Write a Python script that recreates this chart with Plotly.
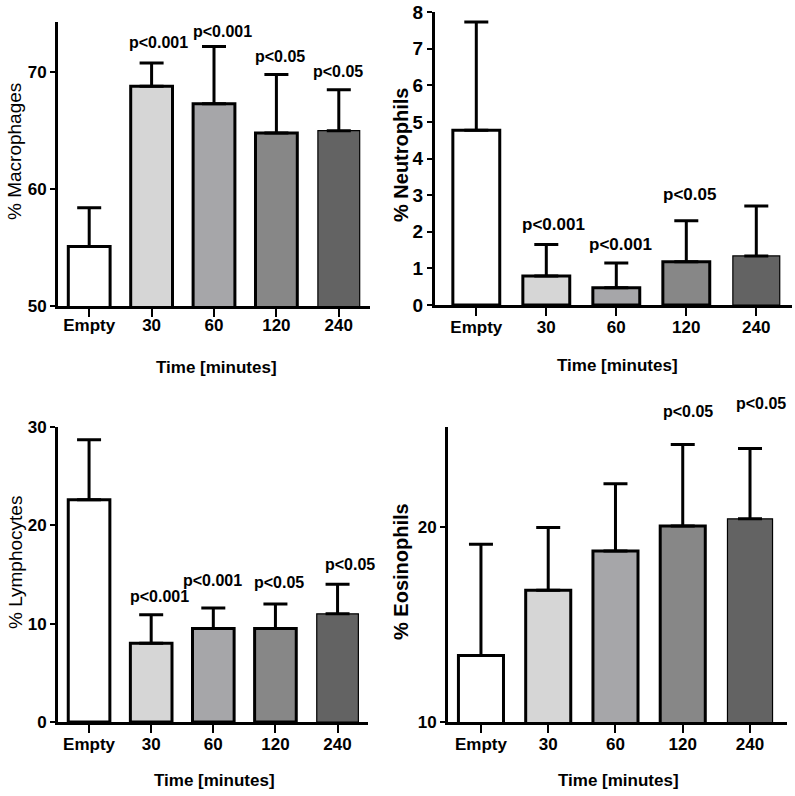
import plotly.graph_objects as go

categories = ["Empty", "30", "60", "120", "240"]

macro_mean = [55.1, 68.8, 67.3, 64.8, 65.0]
macro_err = [3.3, 2.0, 4.9, 5.0, 3.5]
macro_p = ["", "p<0.001", "p<0.001", "p<0.05", "p<0.05"]

neutro_mean = [4.77, 0.79, 0.47, 1.18, 1.34]
neutro_err = [2.96, 0.86, 0.68, 1.12, 1.36]
neutro_p = ["", "p<0.001", "p<0.001", "p<0.05", ""]

lympho_mean = [22.6, 8.0, 9.5, 9.5, 11.0]
lympho_err = [6.1, 2.9, 2.1, 2.5, 3.0]
lympho_p = ["", "p<0.001", "p<0.001", "p<0.05", "p<0.05"]

eosino_mean = [13.4, 16.75, 18.75, 20.03, 20.4]
eosino_err = [5.7, 3.2, 3.45, 4.17, 3.6]
eosino_p = ["", "", "", "p<0.05", "p<0.05"]

y_titles = ["% Macrophages", "% Neutrophils", "% Lymphocytes", "% Eosinophils"]
x_title = "Time [minutes]"

bar_colors = ["#ffffff", "#d6d6d6", "#a6a6a9", "#878787", "#636363"]
bar_line_w = [3, 3, 3, 3, 1.2]
FONT = "Liberation Sans, Arial, sans-serif"

panels = [
    dict(mean=macro_mean, err=macro_err, p=macro_p,
         xd=[58/795, 370/795], yd=[1-306/796, 1-22/796],
         xr=[-0.5, 4.5], yr=[50, 74.3], tv=[50, 60, 70],
         pxs=[0, 7, 8, 4, -1], pys=[0, 10, 5, 8, 8], tfs=17, ptf=16, xso=-6),
    dict(mean=neutro_mean, err=neutro_err, p=neutro_p,
         xd=[435/795, 792/795], yd=[1-305/796, 1-12/796],
         xr=[-0.59, 4.51], yr=[0, 8], tv=list(range(0, 9)),
         pxs=[0, 7, 4, 3, 0], pys=[0, 9, 7, 15, 0], tfs=19, ptf=17, xso=-3),
    dict(mean=lympho_mean, err=lympho_err, p=lympho_p,
         xd=[58/795, 368/795], yd=[1-722/796, 1-427/796],
         xr=[-0.5, 4.49], yr=[0, 30], tv=[0, 10, 20, 30],
         pxs=[0, 8, -1, 4, 12], pys=[0, 8, 17, 11, 9], tfs=17, ptf=16, xso=-3),
    dict(mean=eosino_mean, err=eosino_err, p=eosino_p,
         xd=[448/795, 787/795], yd=[1-722/796, 1-427/796],
         xr=[-0.49, 4.55], yr=[10, 25.1], tv=[10, 20],
         pxs=[0, 0, 0, 5, 11], pys=[0, 0, 0, 23, 34], tfs=17, ptf=16, xso=-3),
]

fig = go.Figure()
annotations = []
layout = {}

for i, pn in enumerate(panels):
    n = "" if i == 0 else str(i + 1)
    xa, ya = "x" + n, "y" + n
    fig.add_trace(go.Bar(
        x=list(range(len(categories))), y=pn["mean"],
        xaxis=xa, yaxis=ya, width=0.67,
        marker=dict(color=bar_colors, line=dict(color="#000000", width=bar_line_w)),
        error_y=dict(type="data", symmetric=False, array=pn["err"],
                     arrayminus=[0] * len(categories),
                     color="#000000", thickness=3, width=12),
        showlegend=False, hoverinfo="skip",
    ))
    layout["xaxis" + n] = dict(
        domain=pn["xd"], range=pn["xr"], anchor=ya, automargin=False,
        tickmode="array", tickvals=list(range(len(categories))), ticktext=categories,
        showline=True, linecolor="#000000", linewidth=3,
        ticks="outside", ticklen=8, tickwidth=2, tickcolor="#000000",
        ticklabelstandoff=pn["xso"],
        showgrid=False, zeroline=False, fixedrange=True,
        tickfont=dict(family=FONT, size=17, color="#000000", weight="bold"),
    )
    layout["yaxis" + n] = dict(
        domain=pn["yd"], range=pn["yr"], anchor=xa, automargin=False,
        tickmode="array", tickvals=pn["tv"],
        showline=True, linecolor="#000000", linewidth=3,
        ticks="outside", ticklen=5, tickwidth=2, tickcolor="#000000",
        showgrid=False, zeroline=False, fixedrange=True,
        tickfont=dict(family=FONT, size=pn["tfs"], color="#000000", weight="bold"),
    )
    for j, lab in enumerate(pn["p"]):
        if not lab:
            continue
        annotations.append(dict(
            x=j, y=pn["mean"][j] + pn["err"][j], xref=xa, yref=ya,
            text="<b>" + lab + "</b>", showarrow=False,
            xanchor="center", yanchor="bottom",
            xshift=pn["pxs"][j], yshift=pn["pys"][j],
            font=dict(family=FONT, size=pn["ptf"], color="#000000"),
        ))

# axis titles
title_pos = [
    (15 / 795, 1 - 152 / 796, False, 19),
    (401 / 795, 1 - 155 / 796, True, 20),
    (15 / 795, 1 - 563 / 796, False, 19),
    (401 / 795, 1 - 572 / 796, True, 20),
]
for (tx, ty, bold, fs), t in zip(title_pos, y_titles):
    annotations.append(dict(
        x=tx, y=ty, xref="paper", yref="paper", textangle=-90,
        text=("<b>" + t + "</b>") if bold else t, showarrow=False,
        xanchor="center", yanchor="middle",
        font=dict(family=FONT, size=fs, color="#000000"),
    ))
for tx, ty in [(216, 367), (617, 365), (214, 780), (618, 780)]:
    annotations.append(dict(
        x=tx / 795, y=1 - ty / 796, xref="paper", yref="paper",
        text="<b>" + x_title + "</b>", showarrow=False,
        xanchor="center", yanchor="middle",
        font=dict(family=FONT, size=17, color="#000000"),
    ))

fig.update_layout(
    template="none",
    width=795, height=796, autosize=False,
    margin=dict(l=0, r=0, t=0, b=0, pad=0, autoexpand=False),
    paper_bgcolor="#ffffff", plot_bgcolor="#ffffff",
    annotations=annotations, bargap=0.33,
    **layout,
)

fig.write_html(
    "out.html",
    config={"displayModeBar": False},
    post_script="document.body.style.margin='0';document.body.style.padding='0';"
                "document.body.style.overflow='hidden';",
)
